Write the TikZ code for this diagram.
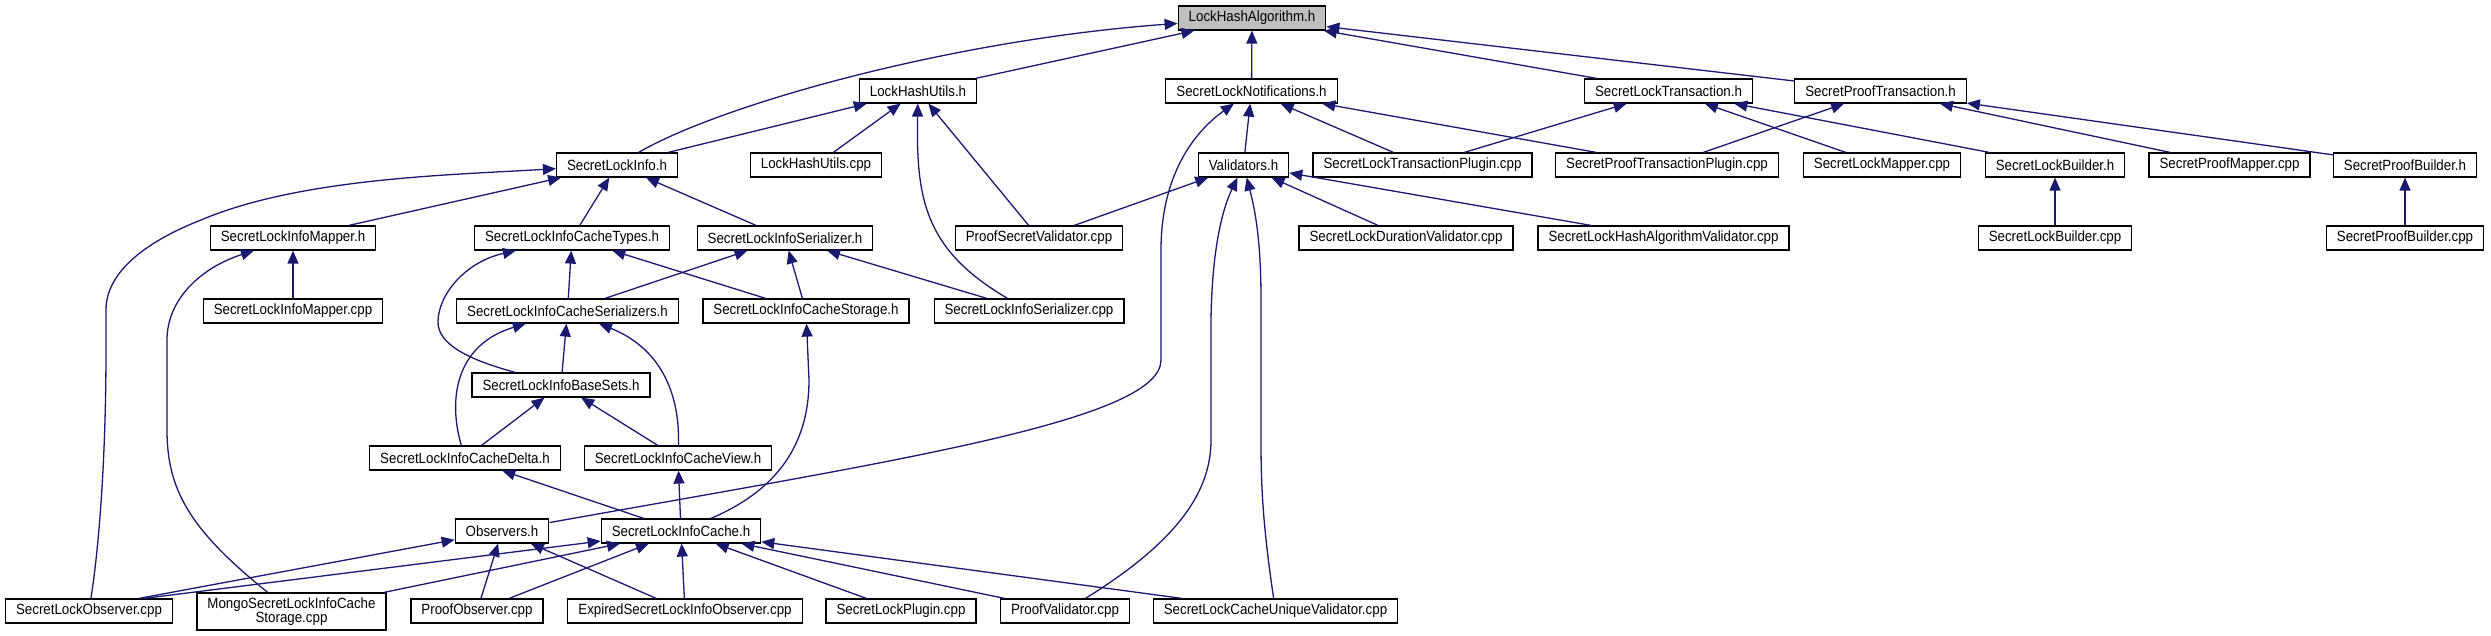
\documentclass[tikz,border=0pt]{standalone}
\usepackage{fontspec}
\setmainfont{Liberation Sans}[FakeStretch=0.9]
\usetikzlibrary{arrows.meta}
\definecolor{edgecol}{HTML}{191970}
\definecolor{maingray}{HTML}{BFBFBF}
\begin{document}
\begin{tikzpicture}[x=1pt,y=-1pt,
  file/.style={draw=black,line width=1.2pt,fill=white,minimum height=24pt,inner xsep=10.5pt,inner ysep=0pt,font=\fontsize{14.8}{14}\selectfont},
  inc/.style={draw=edgecol,line width=1.3pt,-{Triangle[length=13pt,width=11pt]}}]
\useasboundingbox (0,0) rectangle (2491,636);
% nodes
\node[file,fill=maingray] (LHA) at (1252,18) {LockHashAlgorithm.h};
\node[file] (LHU) at (918,91) {LockHashUtils.h};
\node[file] (SLN) at (1251.5,91) {SecretLockNotifications.h};
\node[file] (SLT) at (1668.5,91) {SecretLockTransaction.h};
\node[file] (SPT) at (1880.5,91) {SecretProofTransaction.h};
\node[file] (SLI) at (617,165) {SecretLockInfo.h};
\node[file] (LHUcpp) at (816,165) {LockHashUtils.cpp};
\node[file] (VAL) at (1243.5,165) {Validators.h};
\node[file] (SLTP) at (1422.5,165) {SecretLockTransactionPlugin.cpp};
\node[file] (SPTP) at (1667,165) {SecretProofTransactionPlugin.cpp};
\node[file] (SLM) at (1882,165) {SecretLockMapper.cpp};
\node[file] (SLB) at (2055,165) {SecretLockBuilder.h};
\node[file] (SPM) at (2229.5,165) {SecretProofMapper.cpp};
\node[file] (SPB) at (2405,165) {SecretProofBuilder.h};
\node[file] (SLIM) at (293,238) {SecretLockInfoMapper.h};
\node[file] (SLICT) at (572,238) {SecretLockInfoCacheTypes.h};
\node[file] (SLIS) at (785,238) {SecretLockInfoSerializer.h};
\node[file] (PSV) at (1039,238) {ProofSecretValidator.cpp};
\node[file] (SLDV) at (1406,238) {SecretLockDurationValidator.cpp};
\node[file] (SLHAV) at (1663.5,238) {SecretLockHashAlgorithmValidator.cpp};
\node[file] (SLBcpp) at (2055,238) {SecretLockBuilder.cpp};
\node[file] (SPBcpp) at (2405,238) {SecretProofBuilder.cpp};
\node[file] (SLIMcpp) at (293,311) {SecretLockInfoMapper.cpp};
\node[file] (SLICS) at (567.5,311) {SecretLockInfoCacheSerializers.h};
\node[file] (SLICStor) at (806,311) {SecretLockInfoCacheStorage.h};
\node[file] (SLIScpp) at (1029,311) {SecretLockInfoSerializer.cpp};
\node[file] (SLIBS) at (561,385) {SecretLockInfoBaseSets.h};
\node[file] (SLICD) at (465,458) {SecretLockInfoCacheDelta.h};
\node[file] (SLICV) at (678,458) {SecretLockInfoCacheView.h};
\node[file] (OBS) at (502,531) {Observers.h};
\node[file] (SLIC) at (681,531) {SecretLockInfoCache.h};
\node[file] (SLO) at (89,611) {SecretLockObserver.cpp};
\node[file,align=center,minimum height=37pt] (MONGO) at (291.5,611.5) {MongoSecretLockInfoCache\\Storage.cpp};
\node[file] (PO) at (477,611) {ProofObserver.cpp};
\node[file] (ESLIO) at (685,611) {ExpiredSecretLockInfoObserver.cpp};
\node[file] (SLP) at (901,611) {SecretLockPlugin.cpp};
\node[file] (PV) at (1065,611) {ProofValidator.cpp};
\node[file] (SLCUV) at (1275.5,611) {SecretLockCacheUniqueValidator.cpp};
% edges
\draw[inc] (LHU) -- (LHA);
\draw[inc] (SLN) -- (LHA);
\draw[inc] (SLT) -- (LHA);
\draw[inc] (SPT) -- (LHA);
\draw[inc] (SLI) .. controls (720,105) and (950,40) .. (LHA);
\draw[inc] (SLI) -- (LHU);
\draw[inc] (LHUcpp) -- (LHU);
\draw[inc] (PSV) -- (LHU);
\draw[inc] (SLIScpp) .. controls (925,250) and (916,200) .. (LHU);
\draw[inc] (OBS) .. controls (900,460) and (1161,420) .. (1161,360) -- (1161,250) .. controls (1161,180) and (1190,135) .. (SLN);
\draw[inc] (VAL) -- (SLN);
\draw[inc] (SLTP) -- (SLN);
\draw[inc] (SPTP) -- (SLN);
\draw[inc] (SLTP) -- (SLT);
\draw[inc] (SLM) -- (SLT);
\draw[inc] (SLB) -- (SLT);
\draw[inc] (SPTP) -- (SPT);
\draw[inc] (SPM) -- (SPT);
\draw[inc] (SPB) -- (SPT);
\draw[inc] (SLBcpp) -- (SLB);
\draw[inc] (SPBcpp) -- (SPB);
\draw[inc] (PSV) -- (VAL);
\draw[inc] (SLDV) -- (VAL);
\draw[inc] (SLHAV) -- (VAL);
\draw[inc] (PV) .. controls (1180,540) and (1211,490) .. (1211,440) -- (1211,320) .. controls (1212,250) and (1222,210) .. (VAL);
\draw[inc] (SLCUV) .. controls (1262,520) and (1261,480) .. (1261,440) -- (1261,300) .. controls (1261,240) and (1255,210) .. (VAL);
\draw[inc] (SLO) .. controls (100,540) and (106,450) .. (106,350) -- (106,310) .. controls (106,270) and (150,240) .. (201,220) .. controls (300,178) and (450,175) .. (SLI);
\draw[inc] (SLIM) -- (SLI);
\draw[inc] (SLICT) -- (SLI);
\draw[inc] (SLIS) -- (SLI);
\draw[inc] (MONGO) .. controls (190,530) and (167,490) .. (167,430) -- (167,340) .. controls (167,300) and (200,268) .. (SLIM);
\draw[inc] (SLIMcpp) -- (SLIM);
\draw[inc] (SLIBS) .. controls (470,360) and (438,345) .. (438,322) .. controls (438,295) and (465,262) .. (SLICT);
\draw[inc] (SLICS) -- (SLICT);
\draw[inc] (SLICStor) -- (SLICT);
\draw[inc] (SLICS) -- (SLIS);
\draw[inc] (SLICStor) -- (SLIS);
\draw[inc] (SLIScpp) -- (SLIS);
\draw[inc] (SLICD) .. controls (448,400) and (455,345) .. (SLICS);
\draw[inc] (SLIBS) -- (SLICS);
\draw[inc] (SLICV) .. controls (680,400) and (665,350) .. (SLICS);
\draw[inc] (SLIC) .. controls (790,485) and (809,430) .. (809,380) -- (SLICStor);
\draw[inc] (SLICD) -- (SLIBS);
\draw[inc] (SLICV) -- (SLIBS);
\draw[inc] (SLIC) -- (SLICD);
\draw[inc] (SLIC) -- (SLICV);
\draw[inc] ([xshift=50pt]SLO.north) -- (OBS);
\draw[inc] (PO) -- (OBS);
\draw[inc] (ESLIO) -- (OBS);
\draw[inc] ([xshift=55pt]SLO.north) -- (SLIC);
\draw[inc] (MONGO) -- (SLIC);
\draw[inc] (PO) -- (SLIC);
\draw[inc] (ESLIO) -- (SLIC);
\draw[inc] (SLP) -- (SLIC);
\draw[inc] (PV) -- (SLIC);
\draw[inc] (SLCUV) -- (SLIC);
\end{tikzpicture}
\end{document}
